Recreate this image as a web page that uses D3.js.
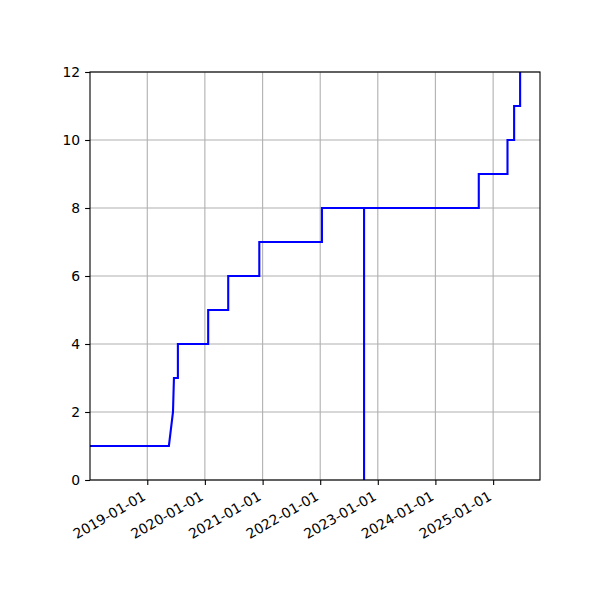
<!DOCTYPE html>
<html lang="en">
<head>
<meta charset="utf-8">
<title>Step count over time</title>
<script src="https://cdn.jsdelivr.net/npm/d3@7"></script>
<style>
  body { margin: 0; background: #fff; }
  text { font-family: "DejaVu Sans", sans-serif; font-size: 13.9px; fill: #000; }
</style>
</head>
<body>
<script>
// polyline points
var dates = ["2018-01-03", "2019-05-18", "2019-06-13", "2019-06-19", "2019-07-14", "2019-07-14",
             "2020-01-22", "2020-01-22", "2020-05-28", "2020-05-28", "2020-12-11", "2020-12-11",
             "2022-01-12", "2022-01-12", "2022-10-06", "2022-10-06", "2022-10-06", "2024-10-02",
             "2024-10-02", "2025-04-02", "2025-04-02", "2025-05-14", "2025-05-14", "2025-06-21",
             "2025-06-21"];
var counts = [1, 1, 2, 3, 3, 4,
              4, 5, 5, 6, 6, 7,
              7, 8, 8, 0, 8, 8,
              9, 9, 10, 10, 11, 11,
              12];
var xTicks = ["2019-01-01", "2020-01-01", "2021-01-01", "2022-01-01", "2023-01-01", "2024-01-01", "2025-01-01"];
var yTicks = [0, 2, 4, 6, 8, 10, 12];
var xRange = ["2018-01-03", "2025-10-25"];

var w = 600, h = 600;
var margin = {top: 72, right: 60, bottom: 120, left: 90};

var parse = d3.utcParse("%Y-%m-%d");
var pts = dates.map(function(d, i) { return {date: parse(d), count: counts[i]}; });

var svg = d3.select("body").append("svg")
            .attr("width", w)
            .attr("height", h);

var xScale = d3.scaleUtc()
               .domain(xRange.map(parse))
               .range([margin.left, w - margin.right]);

var yScale = d3.scaleLinear()
               .domain([0, 12])
               .range([h - margin.bottom, margin.top]);

// grid
svg.append("g").selectAll("line")
   .data(xTicks.map(parse))
   .enter().append("line")
   .attr("x1", d => xScale(d)).attr("x2", d => xScale(d))
   .attr("y1", margin.top).attr("y2", h - margin.bottom)
   .attr("stroke", "#b0b0b0").attr("stroke-width", 1.1);

svg.append("g").selectAll("line")
   .data(yTicks)
   .enter().append("line")
   .attr("x1", margin.left).attr("x2", w - margin.right)
   .attr("y1", d => yScale(d)).attr("y2", d => yScale(d))
   .attr("stroke", "#b0b0b0").attr("stroke-width", 1.1);

svg.append("defs").append("clipPath").attr("id", "clip")
   .append("rect")
   .attr("x", margin.left).attr("y", margin.top)
   .attr("width", w - margin.left - margin.right)
   .attr("height", h - margin.top - margin.bottom);

var line = d3.line()
             .x(d => xScale(d.date))
             .y(d => yScale(d.count));

svg.append("path")
   .datum(pts)
   .attr("clip-path", "url(#clip)")
   .attr("fill", "none")
   .attr("stroke", "#0000ff")
   .attr("stroke-width", 2.1)
   .attr("d", line);

// axes
var xAxis = d3.axisBottom(xScale)
              .tickValues(xTicks.map(parse))
              .tickFormat(d3.utcFormat("%Y-%m-%d"))
              .tickSize(4.9)
              .tickSizeOuter(0);

var gx = svg.append("g")
   .attr("transform", "translate(0," + (h - margin.bottom) + ")")
   .call(xAxis);
gx.select(".domain").remove();
gx.selectAll(".tick line").attr("stroke", "#000").attr("stroke-width", 1.1);
gx.selectAll(".tick text")
   .attr("text-anchor", "end")
   .attr("x", -1).attr("y", 19).attr("dy", 0)
   .attr("transform", "rotate(-30,-1,19)")
   .style("font-family", "DejaVu Sans").style("font-size", "13.9px");

var yAxis = d3.axisLeft(yScale)
              .tickValues(yTicks)
              .tickSize(4.9)
              .tickPadding(4.9)
              .tickSizeOuter(0);

var gy = svg.append("g")
   .attr("transform", "translate(" + margin.left + ",0)")
   .call(yAxis);
gy.select(".domain").remove();
gy.selectAll(".tick line").attr("stroke", "#000").attr("stroke-width", 1.1);
gy.selectAll(".tick text")
   .style("font-family", "DejaVu Sans").style("font-size", "13.9px");

svg.append("rect")
   .attr("x", margin.left).attr("y", margin.top)
   .attr("width", w - margin.left - margin.right)
   .attr("height", h - margin.top - margin.bottom)
   .attr("fill", "none")
   .attr("stroke", "#000")
   .attr("stroke-width", 1.1);
</script>
</body>
</html>
